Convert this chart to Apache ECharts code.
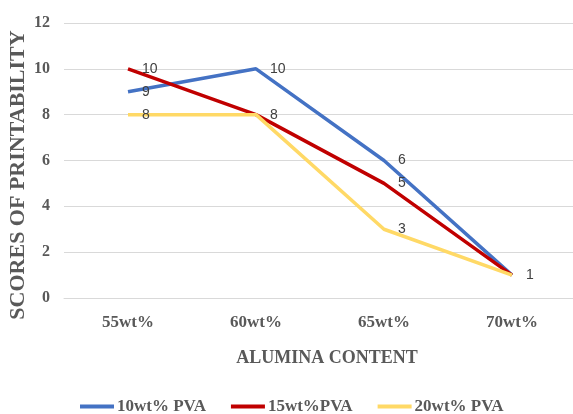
<!DOCTYPE html>
<html>
<head>
<meta charset="utf-8">
<script src="https://cdn.jsdelivr.net/npm/echarts@6/dist/echarts.min.js"></script>
<style>
  html, body { margin: 0; padding: 0; background: #fff; }
  #chart { width: 573px; height: 414px; }
</style>
</head>
<body>
<div id="chart"></div>
<script>
// Alumina content categories and printability scores per PVA loading
const categories = ['55wt%', '60wt%', '65wt%', '70wt%'];
const pva10 = [9, 10, 6, 1];
const pva15 = [10, 8, 5, 1];
const pva20 = [8, 8, 3, 1];
const seriesNames = ['10wt% PVA', '15wt%PVA', '20wt% PVA'];
const yTicks = { min: 0, max: 12, interval: 2 };

const colors = ['#4472C4', '#C00000', '#FFD966'];
const serif = '"Liberation Serif", "Times New Roman", serif';
const grey = '#595959';

const chart = echarts.init(document.getElementById('chart'));

function lineSeries(name, data, color) {
  return {
    name: name,
    type: 'line',
    data: data,
    symbol: 'circle',
    symbolSize: 0.1,
    showSymbol: true,
    lineStyle: { color: color, width: 3.5 },
    itemStyle: { color: color },
    label: {
      show: true,
      position: 'right',
      distance: 14,
      color: '#404040',
      fontFamily: '"Liberation Sans", Arial, sans-serif',
      fontSize: 14
    },
    labelLayout: { hideOverlap: true },
    emphasis: { disabled: true }
  };
}

chart.setOption({
  animation: false,
  color: colors,
  grid: { left: 64, width: 512, top: 23, bottom: 116, outerBoundsMode: 'none' },
  xAxis: {
    type: 'category',
    data: categories,
    boundaryGap: true,
    axisLine: { show: true, lineStyle: { color: '#d9d9d9', width: 1 } },
    axisTick: { show: false },
    axisLabel: { color: grey, fontFamily: serif, fontWeight: 'bold', fontSize: 17, margin: 16 },
    name: 'ALUMINA CONTENT',
    nameLocation: 'middle',
    nameGap: 51,
    nameTextStyle: { color: grey, fontFamily: serif, fontWeight: 'bold', fontSize: 18, padding: [0, 0, 0, 14] }
  },
  yAxis: {
    type: 'value',
    min: yTicks.min,
    max: yTicks.max,
    interval: yTicks.interval,
    axisLine: { show: false },
    axisTick: { show: false },
    splitLine: { lineStyle: { color: '#d9d9d9', width: 1 } },
    axisLabel: { color: grey, fontFamily: serif, fontWeight: 'bold', fontSize: 16, margin: 14 }
  },
  graphic: [{
    type: 'text',
    x: 18,
    y: 175,
    rotation: Math.PI / 2,
    style: {
      text: 'SCORES OF PRINTABILITY',
      fill: grey,
      font: 'bold 22px ' + serif,
      align: 'center',
      verticalAlign: 'middle'
    }
  }],
  legend: {
    left: 75,
    top: 393,
    itemWidth: 34,
    itemHeight: 14,
    itemGap: 25,
    icon: 'path://M0,5 L34,5 L34,9 L0,9 Z',
    textStyle: { color: grey, fontFamily: serif, fontWeight: 'bold', fontSize: 17, padding: [0, 0, 0, -2] },
    data: seriesNames
  },
  series: [
    lineSeries(seriesNames[0], pva10, colors[0]),
    lineSeries(seriesNames[1], pva15, colors[1]),
    lineSeries(seriesNames[2], pva20, colors[2])
  ]
});
</script>
</body>
</html>
